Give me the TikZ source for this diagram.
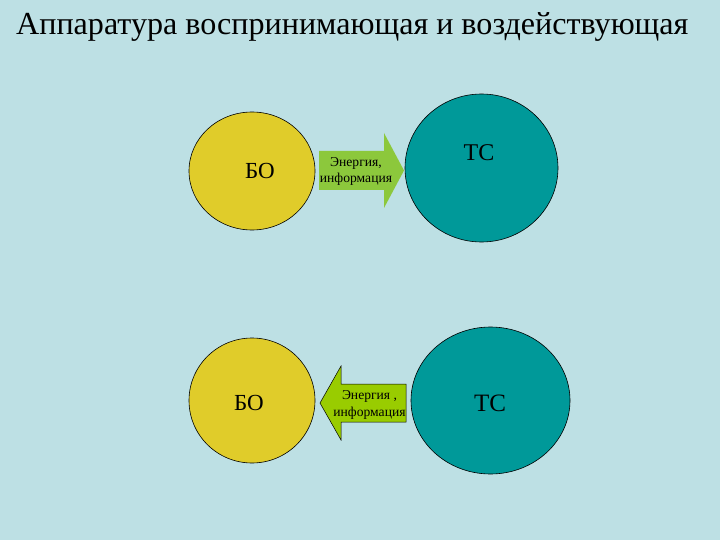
\documentclass[tikz,border=0pt]{standalone}
\usepackage{fontspec}
\setmainfont{Liberation Serif}
\definecolor{bg}{HTML}{BDE0E4}
\definecolor{boy}{HTML}{E0CC2A}
\definecolor{tsc}{HTML}{009999}
\definecolor{arrA}{HTML}{8CC83C}
\definecolor{arrB}{HTML}{99CC00}
\begin{document}
\begin{tikzpicture}[x=1pt,y=-1pt,
  bo/.style={draw=black,line width=0.6pt,fill=boy},
  ts/.style={draw=black,line width=0.6pt,fill=tsc},
  lbl/.style={font=\fontsize{23}{26}\selectfont,text=black},
  atext/.style={font=\fontsize{13.6}{16.5}\selectfont,align=center,text=black,inner sep=0pt}]
\fill[bg] (0,0) rectangle (720,540);
\useasboundingbox (0,0) rectangle (720,540);
\node[anchor=base west,inner sep=0pt,font=\fontsize{32.1}{36}\selectfont] (title) at (16,35) {Аппаратура воспринимающая и воздействующая};
% top row
\draw[bo] (252,171) ellipse [x radius=63, y radius=59];
\node[lbl] (bo1) at (260,171) {БО};
\draw[ts] (481.5,168) ellipse [x radius=76.5, y radius=74];
\node[lbl,font=\fontsize{24}{27}\selectfont] (ts1) at (479,153) {ТС};
\fill[arrA] (319,151) -- (384,151) -- (384,133) -- (404,170.5) -- (384,208) -- (384,190) -- (319,190) -- cycle;
\node[atext] (a1) at (356,171.5) {Энергия,\\информация};
% bottom row
\draw[bo] (252,400.5) ellipse [x radius=63, y radius=62.5];
\node[lbl] (bo2) at (249,403) {БО};
\draw[ts] (490.5,400.5) ellipse [x radius=79.5, y radius=73.5];
\node[lbl,font=\fontsize{25}{28}\selectfont] (ts2) at (490,403) {ТС};
\draw[fill=arrB,draw=black,line width=0.5pt] (320,403) -- (341,366) -- (341,384) -- (406,384) -- (406,422) -- (341,422) -- (341,440) -- cycle;
\node[atext] (a2) at (369.5,405) {Энергия ,\\информация};
\end{tikzpicture}
\end{document}
